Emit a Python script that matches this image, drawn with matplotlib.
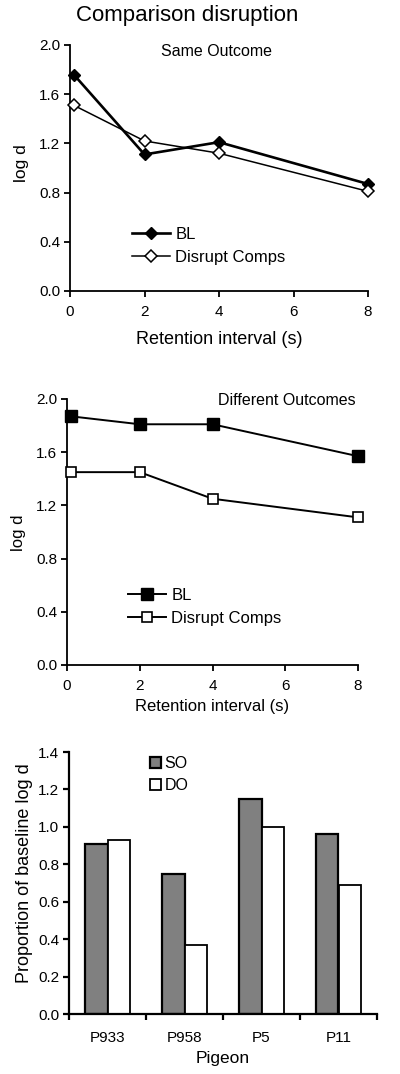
import matplotlib
matplotlib.use("Agg")
import matplotlib.pyplot as plt
import numpy as np
from matplotlib.ticker import FormatStrFormatter, FixedLocator

plt.rcParams['font.family'] = ['Liberation Sans', 'DejaVu Sans']

# ---- data ----
ri = [0.1, 2, 4, 8]
so_bl = [1.76, 1.11, 1.21, 0.87]
so_dc = [1.51, 1.22, 1.12, 0.81]
do_bl = [1.87, 1.81, 1.81, 1.57]
do_dc = [1.45, 1.45, 1.25, 1.11]
pigeons = ["P933", "P958", "P5", "P11"]
prop_so = [0.91, 0.75, 1.15, 0.96]
prop_do = [0.93, 0.37, 1.00, 0.69]

W, H = 400, 1074
fig = plt.figure(figsize=(W / 100, H / 100), dpi=100)

def box(l, t, r, b):
    return [l / W, 1 - b / H, (r - l) / W, (b - t) / H]

def style(ax, lw=1.3, fs=11):
    for s in ["top", "right"]:
        ax.spines[s].set_visible(False)
    for s in ["left", "bottom"]:
        ax.spines[s].set_linewidth(lw)
    ax.tick_params(direction="out", length=4, width=lw, labelsize=fs, pad=3)
    ax.tick_params(axis="x", pad=6)

# ---- panel 1 ----
ax1 = fig.add_axes(box(70, 45, 368, 291))
style(ax1)
ax1.plot(ri, so_bl, color="black", lw=1.9, marker="D", ms=6.2,
         mfc="black", mec="black", label="BL", clip_on=False, zorder=3)
ax1.plot(ri, so_dc, color="black", lw=1.1, marker="D", ms=6.2,
         mfc="white", mec="black", mew=1.1, label="Disrupt Comps", clip_on=False, zorder=3)
ax1.set_xlim(0, 8)
ax1.set_ylim(0, 2.0)
ax1.set_xticks([0, 2, 4, 6, 8])
ax1.set_yticks(np.arange(0, 2.01, 0.4))
ax1.yaxis.set_major_formatter(FormatStrFormatter("%.1f"))
ax1.set_xlabel("Retention interval (s)", fontsize=13)
ax1.set_ylabel("log d", fontsize=12.5)
ax1.xaxis.set_label_coords(0.5, -0.163)
ax1.yaxis.set_label_coords(-0.138, 0.52)
ax1.text(0.493, 0.972, "Same Outcome", transform=ax1.transAxes,
         ha="center", va="center", fontsize=11.5)
ax1.legend(loc="center left", bbox_to_anchor=(0.208, 0.183), frameon=False,
           fontsize=12, borderpad=0, borderaxespad=0, handlelength=2.3,
           handletextpad=0.3, labelspacing=0.5)

# ---- panel 2 ----
ax2 = fig.add_axes(box(67, 399, 358, 665))
style(ax2)
ax2.plot(ri, do_bl, color="black", lw=1.4, marker="s", ms=8,
         mfc="black", mec="black", label="BL", clip_on=False, zorder=3)
ax2.plot(ri, do_dc, color="black", lw=1.4, marker="s", ms=7.5,
         mfc="white", mec="black", mew=1.2, label="Disrupt Comps", clip_on=False, zorder=3)
ax2.set_xlim(0, 8)
ax2.set_ylim(0, 2.0)
ax2.set_xticks([0, 2, 4, 6, 8])
ax2.set_yticks(np.arange(0, 2.01, 0.4))
ax2.yaxis.set_major_formatter(FormatStrFormatter("%.1f"))
ax2.set_xlabel("Retention interval (s)", fontsize=12)
ax2.set_ylabel("log d", fontsize=12)
ax2.xaxis.set_label_coords(0.5, -0.128)
ax2.yaxis.set_label_coords(-0.141, 0.496)
ax2.text(0.756, 0.996, "Different Outcomes", transform=ax2.transAxes,
         ha="center", va="center", fontsize=11.5)
ax2.legend(loc="center left", bbox_to_anchor=(0.21, 0.218), frameon=False,
           fontsize=12, borderpad=0, borderaxespad=0, handlelength=2.3,
           handletextpad=0.3, labelspacing=0.5)

# ---- panel 3 ----
ax3 = fig.add_axes(box(69, 752, 377, 1014))
style(ax3, lw=1.6)
x = np.arange(len(pigeons))
bw = 0.29
ax3.bar(x - bw / 2, prop_so, width=bw, color="#808080", edgecolor="black",
        linewidth=1.6, label="SO", zorder=2)
ax3.bar(x + bw / 2, prop_do, width=bw, color="white", edgecolor="black",
        linewidth=1.3, label="DO", zorder=2)
ax3.set_xlim(-0.5, len(pigeons) - 0.5)
ax3.set_ylim(0, 1.4)
ax3.set_yticks(np.arange(0, 1.41, 0.2))
ax3.yaxis.set_major_formatter(FormatStrFormatter("%.1f"))
ax3.set_xticks(x)
ax3.set_xticklabels(pigeons)
ax3.tick_params(axis="x", which="major", length=0, pad=12)
ax3.xaxis.set_minor_locator(FixedLocator(np.arange(-0.5, len(pigeons), 1.0)))
ax3.tick_params(axis="x", which="minor", direction="out", length=4, width=1.6)
ax3.set_xlabel("Pigeon", fontsize=12.5)
ax3.set_ylabel("Proportion of baseline log d", fontsize=13)
ax3.xaxis.set_label_coords(0.5, -0.141)
ax3.yaxis.set_label_coords(-0.117, 0.538)
ax3.legend(loc="center left", bbox_to_anchor=(0.263, 0.914), frameon=False,
           fontsize=11.5, borderpad=0, borderaxespad=0, handlelength=0.7,
           handleheight=0.7, handletextpad=0.2, labelspacing=0.4)

fig.text(0.467, 1 - 16 / H, "Comparison disruption", ha="center", va="center",
         fontsize=16)

fig.savefig("out.png", dpi=100)
